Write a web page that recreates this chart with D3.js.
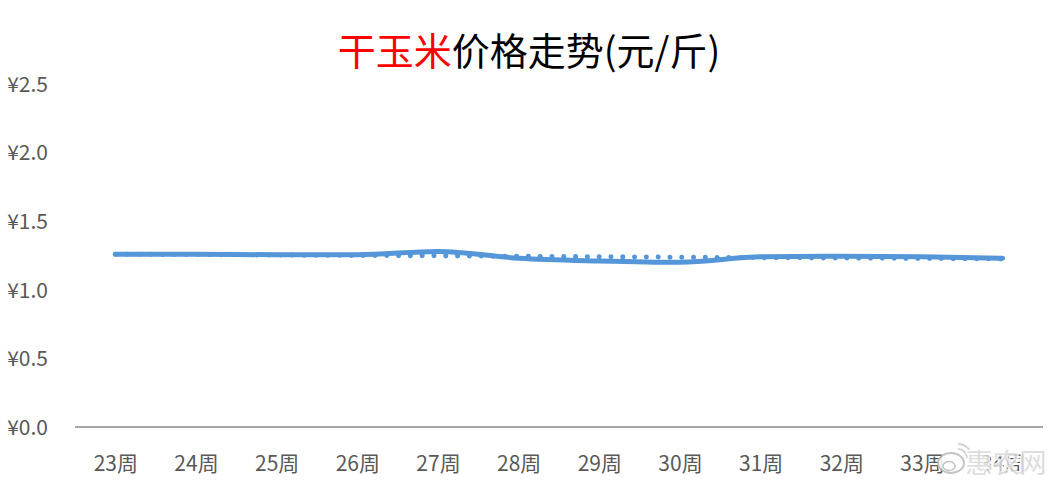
<!DOCTYPE html>
<html><head><meta charset="utf-8">
<script src="https://cdn.jsdelivr.net/npm/d3@7"></script>
<style>body{margin:0;background:#fff}svg{display:block}</style>
</head><body>
<svg id="c" width="1059" height="487"></svg>
<script>
const categories = ["23周","24周","25周","26周","27周","28周","29周","30周","31周","32周","33周","34周"];
const prices = [1.26,1.26,1.255,1.255,1.28,1.23,1.21,1.20,1.24,1.245,1.24,1.23];
const trend = [1.26,1.225];
const yTicks = [0,0.5,1.0,1.5,2.0,2.5];

const svg = d3.select("#c");
const W=1059,H=487;
const m={left:75,right:16,top:84,bottom:60};
const x = d3.scalePoint().domain(categories).range([m.left,W-m.right]).padding(0.5);
const y = d3.scaleLinear().domain([0,2.5]).range([427,84]);
const font = "'Noto Sans CJK SC','Noto Sans',sans-serif";

// title
const t = svg.append("text").attr("x",529).attr("y",65).attr("text-anchor","middle")
  .style("font-family",font).style("font-size","38px");
t.append("tspan").attr("fill","#ff0000").text("干玉米");
t.append("tspan").attr("fill","#000").text("价格走势(元/斤)");

// y axis labels
const yAxis = d3.axisLeft(y).tickValues(yTicks).tickSize(0).tickFormat(d=>"¥"+d.toFixed(1));
const ya = svg.append("g").attr("transform","translate(48,0)").call(yAxis);
ya.select(".domain").remove();
ya.selectAll("text").attr("x",0).attr("dx",0).attr("dy","0.35em").attr("text-anchor","end")
  .style("font-family",font).style("font-size","21px").attr("fill","#595959");

// x axis
const xAxis = d3.axisBottom(x).tickSize(0).tickPadding(0);
const xa = svg.append("g").attr("transform","translate(0,"+y(0)+")").call(xAxis);
xa.select(".domain").attr("stroke","#a6a6a6").attr("stroke-width",2)
  .attr("d","M"+m.left+",0H"+(W-m.right));
xa.selectAll("text").attr("y",44).attr("dy",0)
  .style("font-family",font).style("font-size","21px").attr("fill","#595959");

// trend (dotted)
const trendPts = [[categories[0],trend[0]],[categories[categories.length-1],trend[1]]];
svg.append("path").datum(trendPts)
  .attr("d",d3.line().x(d=>x(d[0])).y(d=>y(d[1])))
  .attr("fill","none").attr("stroke","#5596d8").attr("stroke-width",5)
  .attr("stroke-linecap","round").attr("stroke-dasharray","0.1 11.7");

// price line
svg.append("path").datum(prices)
  .attr("d",d3.line().x((d,i)=>x(categories[i])).y(d=>y(d)).curve(d3.curveMonotoneX))
  .attr("fill","none").attr("stroke","#5596d8").attr("stroke-width",5)
  .attr("stroke-linecap","round").attr("stroke-linejoin","round");

// watermark
const wm = svg.append("g").attr("opacity",0.85);
wm.append("ellipse").attr("cx",951).attr("cy",463).attr("rx",13).attr("ry",10)
  .attr("fill","#fff").attr("stroke","#bbb").attr("stroke-width",2);
wm.append("ellipse").attr("cx",949).attr("cy",466).attr("rx",6).attr("ry",4.5)
  .attr("fill","none").attr("stroke","#bbb").attr("stroke-width",1.5);
wm.append("path").attr("d","M958,449 a9,9 0 0 1 9,9 M958,444 a14,14 0 0 1 14,14")
  .attr("fill","none").attr("stroke","#ccc").attr("stroke-width",2);
wm.append("text").attr("x",1006).attr("y",473).attr("text-anchor","middle")
  .style("font-family",font).style("font-size","27px")
  .attr("fill","#d8d8d8").attr("stroke","#fff").attr("stroke-width",3).attr("paint-order","stroke")
  .text("惠农网");
</script>
</body></html>
